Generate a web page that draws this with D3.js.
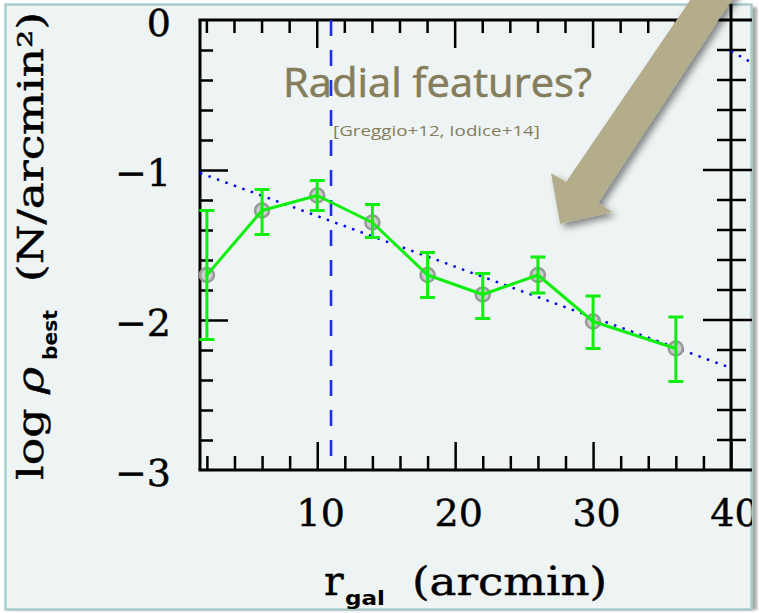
<!DOCTYPE html>
<html>
<head>
<meta charset="utf-8">
<script src="https://cdn.jsdelivr.net/npm/d3@7"></script>
<style>
  body { margin: 0; background: #ffffff; }
  svg { display: block; }
</style>
</head>
<body>
<script>
// Radial profile of the best-fit surface density
const radius  = [2, 6, 10, 14, 18, 22, 26, 30, 36];
const logRho  = [-1.70, -1.27, -1.17, -1.35, -1.70, -1.83, -1.70, -2.01, -2.19];
const errHigh = [-1.27, -1.13, -1.07, -1.23, -1.55, -1.69, -1.58, -1.84, -1.98];
const errLow  = [-2.13, -1.43, -1.27, -1.45, -1.85, -1.99, -1.82, -2.19, -2.41];

// Linear fit (dotted) and the start of the neighbouring panel's fit
const fitR    = [1.5, 40];
const fitLog  = [-1.02, -2.32];
const nextFitR   = [40, 41.6];
const nextFitLog = [-0.207, -0.29];

// Radius of the marked feature (dashed vertical)
const featureR = 11;

// Tick values
const xMajor = [10, 20, 30, 40];
const xMinor = d3.range(2, 40, 2).filter(v => v % 10 !== 0);
const yMajor = [0, -1, -2, -3];
const yMinor = d3.range(1, 15).map(i => -i * 0.2).filter(v => Math.abs(v - Math.round(v)) > 1e-6);

// Annotation arrow outline, in data units
const arrowR   = [37.69, 28.04, 26.95, 27.61, 31.38, 30.36, 40.66];
const arrowLog = [0.22, -1.08, -1.02, -1.36, -1.28, -1.22, 0.22];

const W = 759, H = 613;
const svg = d3.select("body").append("svg").attr("width", W).attr("height", H);

const x = d3.scaleLinear().domain([1.5, 40]).range([200, 731]);
const y = d3.scaleLinear().domain([0, -3]).range([20, 470]);

const defs = svg.append("defs");
defs.append("clipPath").attr("id", "frameClip")
  .append("rect").attr("x", 5).attr("y", 4).attr("width", 747).attr("height", 606);
const sh = defs.append("filter").attr("id", "arrowShadow")
  .attr("x", "-20%").attr("y", "-20%").attr("width", "150%").attr("height", "150%");
sh.append("feDropShadow").attr("dx", 4).attr("dy", 4).attr("stdDeviation", 3.5)
  .attr("flood-color", "#000").attr("flood-opacity", 0.45);
const fsh = defs.append("filter").attr("id", "frameShadow")
  .attr("x", "-5%").attr("y", "-5%").attr("width", "110%").attr("height", "110%");
fsh.append("feGaussianBlur").attr("stdDeviation", 1.5);

// Frame
svg.append("rect").attr("x", 8).attr("y", 7).attr("width", 749).attr("height", 603)
  .attr("fill", "#a8a8a8").attr("filter", "url(#frameShadow)");
svg.append("rect").attr("x", 5.5).attr("y", 4.5).attr("width", 746).attr("height", 605)
  .attr("fill", "#eef4f4").attr("stroke", "#a9cbcc").attr("stroke-width", 2.5);

const g = svg.append("g").attr("clip-path", "url(#frameClip)");

const serif = "'DejaVu Serif', serif";
const sans = "'Open Sans', Lato, sans-serif";
const olive = "#857d5b";
const heavy = sel => sel.attr("stroke", "#000").attr("stroke-width", 0.45);

// Annotation text
g.append("text").attr("x", 283).attr("y", 97)
  .attr("font-family", sans).attr("font-size", 41).attr("fill", olive)
  .attr("stroke", olive).attr("stroke-width", 0.6)
  .attr("textLength", 309).attr("lengthAdjust", "spacingAndGlyphs")
  .text("Radial features?");
g.append("text").attr("x", 333).attr("y", 136)
  .attr("font-family", sans).attr("font-size", 15).attr("fill", olive)
  .attr("textLength", 207).attr("lengthAdjust", "spacingAndGlyphs")
  .text("[Greggio+12, Iodice+14]");

// Axes lines
const axisColor = "#000";
g.append("line").attr("x1", 200).attr("x2", 200).attr("y1", y(0)).attr("y2", y(-3))
  .attr("stroke", axisColor).attr("stroke-width", 3);
g.append("line").attr("x1", x(40)).attr("x2", x(40)).attr("y1", 0).attr("y2", y(-3))
  .attr("stroke", axisColor).attr("stroke-width", 3);
g.append("line").attr("x1", 198.5).attr("x2", 760).attr("y1", y(0)).attr("y2", y(0))
  .attr("stroke", axisColor).attr("stroke-width", 3);
g.append("line").attr("x1", 198.5).attr("x2", 760).attr("y1", y(-3)).attr("y2", y(-3))
  .attr("stroke", axisColor).attr("stroke-width", 3);

// Bottom axis with labels
const bottom = g.append("g").attr("transform", `translate(0,${y(-3)})`);
bottom.call(d3.axisBottom(x).tickValues(xMinor).tickSize(-14).tickSizeOuter(0).tickFormat(""));
bottom.append("g").call(d3.axisBottom(x).tickValues(xMajor).tickSize(-28).tickSizeOuter(0)
  .tickPadding(29).tickFormat(d3.format("d")));
bottom.selectAll(".domain").remove();
bottom.selectAll(".tick line").attr("stroke", axisColor).attr("stroke-width", 2.5);
bottom.selectAll(".tick text").attr("font-family", serif).attr("font-size", 38)
  .attr("fill", "#000").attr("dx", 3).call(heavy);

// Left axis with labels
const left = g.append("g").attr("transform", "translate(200,0)");
left.call(d3.axisLeft(y).tickValues(yMinor).tickSize(-13).tickSizeOuter(0).tickFormat(""));
left.append("g").call(d3.axisLeft(y).tickValues(yMajor).tickSize(-28).tickSizeOuter(0)
  .tickPadding(29).tickFormat(d => d === 0 ? "0" : "\u2212" + Math.abs(d)));
left.selectAll(".domain").remove();
left.selectAll(".tick line").attr("stroke", axisColor).attr("stroke-width", 2.5);
left.selectAll(".tick text").attr("font-family", serif).attr("font-size", 38)
  .attr("fill", "#000").attr("dy", "0.4em").call(heavy);
left.selectAll(".tick").filter(d => d === 0 || d === -3).select("line").remove();

// Top axis ticks (inward)
const topTicks = g.append("g");
topTicks.selectAll("line.minor").data(xMinor).join("line")
  .attr("x1", d => x(d)).attr("x2", d => x(d)).attr("y1", y(0)).attr("y2", y(0) + 13)
  .attr("stroke", axisColor).attr("stroke-width", 2.5);
topTicks.selectAll("line.major").data(xMajor.filter(v => v < 40)).join("line")
  .attr("x1", d => x(d)).attr("x2", d => x(d)).attr("y1", y(0)).attr("y2", y(0) + 28)
  .attr("stroke", axisColor).attr("stroke-width", 2.5);

// Right axis ticks (shared with the neighbouring panel, on both sides)
const rightTicks = g.append("g");
rightTicks.selectAll("line.minor").data(yMinor).join("line")
  .attr("x1", x(40) - 14).attr("x2", x(40) + 15).attr("y1", d => y(d)).attr("y2", d => y(d))
  .attr("stroke", axisColor).attr("stroke-width", 2.5);
rightTicks.selectAll("line.major").data(yMajor.filter(v => v !== 0 && v !== -3)).join("line")
  .attr("x1", x(40) - 28).attr("x2", x(40) + 22).attr("y1", d => y(d)).attr("y2", d => y(d))
  .attr("stroke", axisColor).attr("stroke-width", 2.5);

// Feature radius
g.append("line").attr("x1", x(featureR)).attr("x2", x(featureR))
  .attr("y1", y(0)).attr("y2", y(-3))
  .attr("stroke", "#1c2de8").attr("stroke-width", 2.6).attr("stroke-dasharray", "16,14");

// Fit lines (dotted)
const fitPts = fitR.map((r, i) => [r, fitLog[i]]);
const nextPts = nextFitR.map((r, i) => [r, nextFitLog[i]]);
const lineGen = d3.line().x(d => x(d[0])).y(d => y(d[1]));
[fitPts, nextPts].forEach(pts => {
  g.append("path").attr("d", lineGen(pts)).attr("fill", "none")
    .attr("stroke", "#0000f0").attr("stroke-width", 2.4)
    .attr("stroke-dasharray", "2.5,6.5").attr("stroke-linecap", "butt");
});

// Data points
const pts = radius.map((r, i) => ({ r, v: logRho[i], hi: errHigh[i], lo: errLow[i] }));
g.selectAll("circle.pt").data(pts).join("circle")
  .attr("cx", d => x(d.r)).attr("cy", d => y(d.v)).attr("r", 7)
  .attr("fill", "#c6c6c6").attr("fill-opacity", 0.85)
  .attr("stroke", "#999999").attr("stroke-width", 2.6);

const green = "#10ee10";
g.append("path").attr("d", d3.line().x(d => x(d.r)).y(d => y(d.v))(pts))
  .attr("fill", "none").attr("stroke", green).attr("stroke-width", 3).attr("stroke-linejoin", "round");

const eb = g.append("g").attr("stroke", green).attr("stroke-width", 3);
eb.selectAll("line.v").data(pts).join("line")
  .attr("x1", d => x(d.r)).attr("x2", d => x(d.r)).attr("y1", d => y(d.hi)).attr("y2", d => y(d.lo));
eb.selectAll("line.hi").data(pts).join("line")
  .attr("x1", d => x(d.r) - 7.5).attr("x2", d => x(d.r) + 7.5).attr("y1", d => y(d.hi)).attr("y2", d => y(d.hi));
eb.selectAll("line.lo").data(pts).join("line")
  .attr("x1", d => x(d.r) - 7.5).attr("x2", d => x(d.r) + 7.5).attr("y1", d => y(d.lo)).attr("y2", d => y(d.lo));

// Axis titles
const xt = g.append("g");
xt.append("text").attr("x", 324).attr("y", 595)
  .attr("font-family", serif).attr("font-size", 41).call(heavy).text("r");
xt.append("text").attr("x", 345).attr("y", 605)
  .attr("font-family", "'DejaVu Sans', sans-serif").attr("font-weight", "bold").attr("font-size", 19)
  .attr("textLength", 40).attr("lengthAdjust", "spacingAndGlyphs").text("gal");
xt.append("text").attr("x", 412).attr("y", 595)
  .attr("font-family", serif).attr("font-size", 40).call(heavy)
  .attr("textLength", 195).attr("lengthAdjust", "spacingAndGlyphs").text("(arcmin)");

const yt = g.append("g");
yt.append("text").attr("transform", "translate(43,480) rotate(-90)")
  .attr("font-family", serif).attr("font-size", 35).call(heavy)
  .attr("textLength", 113).attr("lengthAdjust", "spacingAndGlyphs")
  .call(t => {
    t.append("tspan").text("log ");
    t.append("tspan").attr("font-style", "italic").text("\u03c1");
  });
yt.append("text").attr("transform", "translate(57,360) rotate(-90)")
  .attr("font-family", "'DejaVu Sans', sans-serif").attr("font-weight", "bold").attr("font-size", 19)
  .attr("textLength", 50).attr("lengthAdjust", "spacingAndGlyphs").text("best");
yt.append("text").attr("transform", "translate(43,282) rotate(-90)")
  .attr("font-family", serif).attr("font-size", 35).call(heavy)
  .attr("textLength", 270).attr("lengthAdjust", "spacingAndGlyphs").text("(N/arcmin\u00b2)");

// Annotation arrow
const arrowPts = arrowR.map((r, i) => [x(r), y(arrowLog[i])]);
svg.append("path").attr("d", d3.line()(arrowPts) + "Z")
  .attr("fill", "#b4ad8b").attr("filter", "url(#arrowShadow)");
</script>
</body>
</html>
